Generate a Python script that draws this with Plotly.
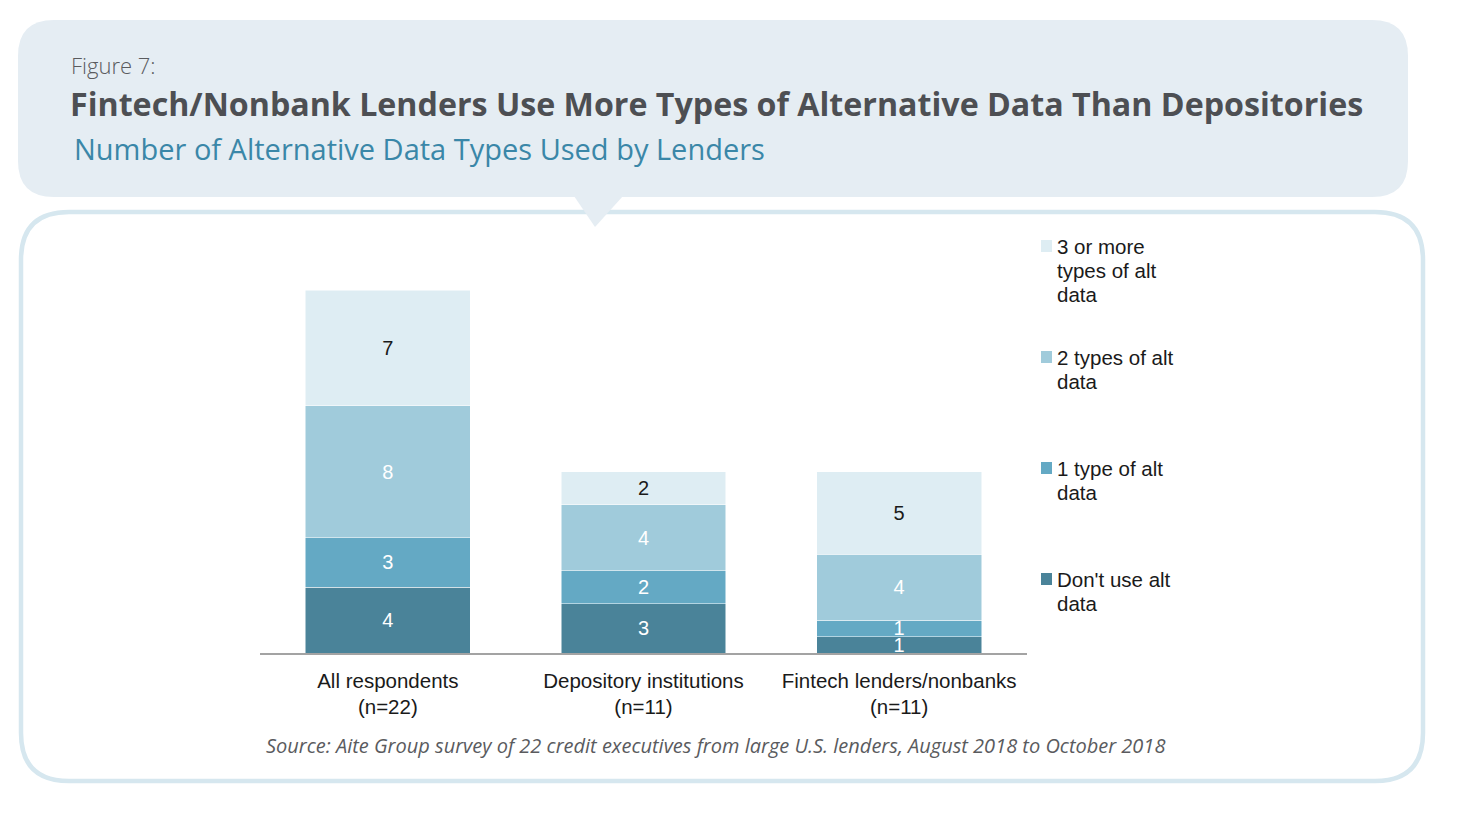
import plotly.graph_objects as go

# page size; the figure sits 8px in from the page corner, so it is drawn 8px smaller
PAGE_W, PAGE_H = 1468, 824
OFF = 8
W, H = PAGE_W - OFF, PAGE_H - OFF
# plot-area edges in page pixels
PLOT_LEFT, PLOT_RIGHT, PLOT_TOP, PLOT_BOTTOM = 260, 1027, 290, 653
ML, MR = PLOT_LEFT - OFF, W - (PLOT_RIGHT - OFF)
MT, MB = PLOT_TOP - OFF, H - (PLOT_BOTTOM - OFF)

CATEGORIES = ['All respondents<br>(n=22)', 'Depository institutions<br>(n=11)',
              'Fintech lenders/nonbanks<br>(n=11)']

SERIES_NAMES = ["Don't use alt<br>data", '1 type of alt<br>data',
                '2 types of alt<br>data', '3 or more<br>types of alt<br>data']
DONT_USE = [4, 3, 1]
ONE_TYPE = [3, 2, 1]
TWO_TYPES = [8, 4, 4]
THREE_PLUS = [7, 2, 5]

COLORS = ['#4a8399', '#64a9c4', '#a0cbdb', '#deedf3']
TEXT_COLORS = ['white', 'white', 'white', '#1a1a1a']

SOURCE = ('Source: Aite Group survey of 22 credit executives from large U.S. lenders, '
          'August 2018 to October 2018')

ARIAL = 'Liberation Sans, Arial'


# page pixel -> paper coordinate
def px(x):
    return (x - PLOT_LEFT) / (PLOT_RIGHT - PLOT_LEFT)


def py(y):
    return (PLOT_BOTTOM - y) / (PLOT_BOTTOM - PLOT_TOP)


def rounded_rect(x0, y0, x1, y1, r):
    pts = [('M', x0 + r, y0), ('L', x1 - r, y0), ('Q', x1, y0, x1, y0 + r),
           ('L', x1, y1 - r), ('Q', x1, y1, x1 - r, y1), ('L', x0 + r, y1),
           ('Q', x0, y1, x0, y1 - r), ('L', x0, y0 + r), ('Q', x0, y0, x0 + r, y0)]
    out = []
    for p in pts:
        cmd, coords = p[0], p[1:]
        xy = []
        for i in range(0, len(coords), 2):
            xy.append(f'{px(coords[i]):.5f},{py(coords[i + 1]):.5f}')
        out.append(cmd + ' ' + ' '.join(xy))
    return ' '.join(out) + ' Z'


series_values = [DONT_USE, ONE_TYPE, TWO_TYPES, THREE_PLUS]

fig = go.Figure()
for name, vals, col, tcol in zip(SERIES_NAMES, series_values, COLORS, TEXT_COLORS):
    fig.add_trace(go.Bar(
        x=CATEGORIES, y=vals, name=name,
        marker=dict(color=col, line=dict(color='white', width=0.5)),
        text=vals, textposition='inside', insidetextanchor='middle', textangle=0,
        textfont=dict(family=ARIAL, size=20, color=tcol),
        showlegend=False))

shapes = [
    # header box
    dict(type='path', xref='paper', yref='paper', layer='below',
         path=rounded_rect(18, 20, 1408, 197, 36),
         fillcolor='#e5edf3', line=dict(width=0)),
    # chart frame
    dict(type='path', xref='paper', yref='paper', layer='below',
         path=rounded_rect(21, 212, 1423, 781, 48),
         fillcolor='white', line=dict(color='#d6e7ef', width=4.5)),
    # pointer
    dict(type='path', xref='paper', yref='paper', layer='below',
         path=(f'M {px(574):.5f},{py(196):.5f} L {px(623):.5f},{py(196):.5f} '
               f'L {px(595):.5f},{py(227):.5f} Z'),
         fillcolor='#e5edf3', line=dict(width=0)),
]

annotations = [
    dict(text='Figure 7:', x=px(69), y=py(65), xanchor='left', yanchor='middle',
         font=dict(family='Open Sans', size=22, weight=300, color='#5a5b5e')),
    dict(text='Fintech/Nonbank Lenders Use More Types of Alternative Data Than Depositories',
         x=px(68), y=py(104), xanchor='left', yanchor='middle',
         font=dict(family='Open Sans', size=32.2, weight=700, color='#4d4f53')),
    dict(text='Number of Alternative Data Types Used by Lenders',
         x=px(72), y=py(148), xanchor='left', yanchor='middle',
         font=dict(family='Open Sans', size=29, color='#3a87a8')),
    dict(text=f'<i>{SOURCE}</i>', x=px(715), y=py(745), xanchor='center', yanchor='middle',
         font=dict(family='Open Sans', size=20, color='#5a5b5e')),
]

# legend drawn by hand, top entry first, evenly spaced, 24px line pitch
legend_top = 246
for i, (name, col) in enumerate(reversed(list(zip(SERIES_NAMES, COLORS)))):
    mid = legend_top + i * 111
    shapes.append(dict(type='rect', xref='paper', yref='paper',
                       x0=px(1041), x1=px(1052), y0=py(mid - 6), y1=py(mid + 6),
                       fillcolor=col, line=dict(width=0)))
    for j, line in enumerate(name.split('<br>')):
        annotations.append(dict(text=line, x=px(1055), y=py(mid + j * 24),
                                xanchor='left', yanchor='middle', align='left',
                                font=dict(family=ARIAL, size=20.5, color='#1a1a1a')))

for a in annotations:
    a.update(xref='paper', yref='paper', showarrow=False)

fig.update_layout(
    width=W, height=H, barmode='stack', bargap=0.355,
    paper_bgcolor='white', plot_bgcolor='rgba(0,0,0,0)',
    margin=dict(l=ML, r=MR, t=MT, b=MB, pad=0),
    shapes=shapes, annotations=annotations,
    uniformtext=dict(minsize=20, mode='show'),
    xaxis=dict(showline=True, linecolor='#a3a3a3', linewidth=2, ticks='outside',
               ticklen=8, tickcolor='rgba(0,0,0,0)',
               tickfont=dict(family=ARIAL, size=20.5, color='#1a1a1a')),
    yaxis=dict(range=[0, 22], visible=False, fixedrange=True),
)

fig.write_html('out.html')
